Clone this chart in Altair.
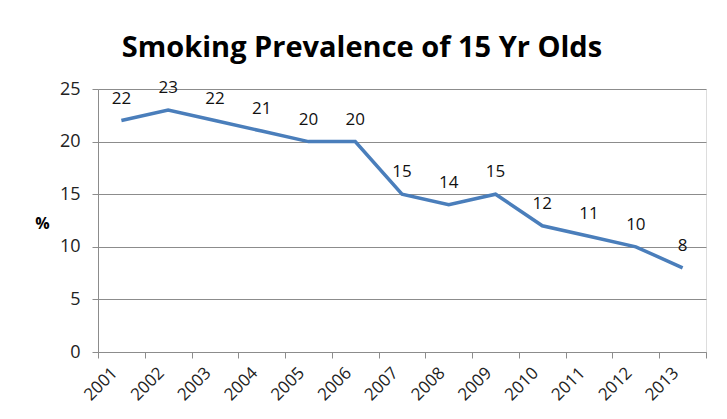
import altair as alt
import pandas as pd

years = ["2001", "2002", "2003", "2004", "2005", "2006", "2007",
         "2008", "2009", "2010", "2011", "2012", "2013"]
values = [22, 23, 22, 21, 20, 20, 15, 14, 15, 12, 11, 10, 8]
y_ticks = [0, 5, 10, 15, 20, 25]

df = pd.DataFrame({"year": years, "value": values})

FONT = "Open Sans"

x = alt.X(
    "year:O",
    bandPosition=0.5,
    sort=years,
    scale=alt.Scale(type="band", paddingInner=0, paddingOuter=0),
    axis=alt.Axis(
        title=None,
        labelAngle=-45,
        labelAlign="right",
        labelBaseline="middle",
        labelFontSize=17,
        labelFont=FONT,
        labelColor="#222222",
        labelPadding=12,
        labelOffset=-7,
        tickBand="extent",
        tickSize=6,
        tickColor="#8c8c8c",
        domainColor="#8c8c8c",
    ),
)

y = alt.Y(
    "value:Q",
    scale=alt.Scale(domain=[0, 25], nice=False),
    axis=alt.Axis(
        values=y_ticks,
        title="%",
        titleAngle=0,
        titleX=-56,
        titleY=134,
        titleAlign="center",
        titleBaseline="middle",
        titleFont=FONT,
        titleFontSize=16,
        titleFontWeight="bold",
        titleColor="#000000",
        labelFont=FONT,
        labelFontSize=18,
        labelColor="#222222",
        labelPadding=12,
        tickSize=6,
        tickColor="#8c8c8c",
        domainColor="#8c8c8c",
        grid=True,
        gridColor="#8c8c8c",
        gridWidth=1,
    ),
)

base = alt.Chart(df)

line = base.mark_line(color="#4A7EBB", strokeWidth=3.5).encode(x=x, y=y)

labels = base.mark_text(
    font=FONT, fontSize=17, color="#111111", baseline="alphabetic", dy=-17
).encode(x=x, y=y, text="value:Q")

chart = (
    alt.layer(line, labels)
    .properties(
        width=608,
        height=263,
        autosize=alt.AutoSizeParams(type="none"),
        padding={"left": 90, "top": 81, "right": 13, "bottom": 59},
        title=alt.TitleParams(
            "Smoking Prevalence of 15 Yr Olds",
            font=FONT,
            fontSize=29,
            fontWeight="bold",
            color="#000000",
            anchor="middle",
            dx=-40,
            offset=16,
        ),
    )
    .configure_view(stroke=None)
    .configure(background="white")
)

chart.save("out.html", embed_options={"renderer": "svg", "actions": False})
